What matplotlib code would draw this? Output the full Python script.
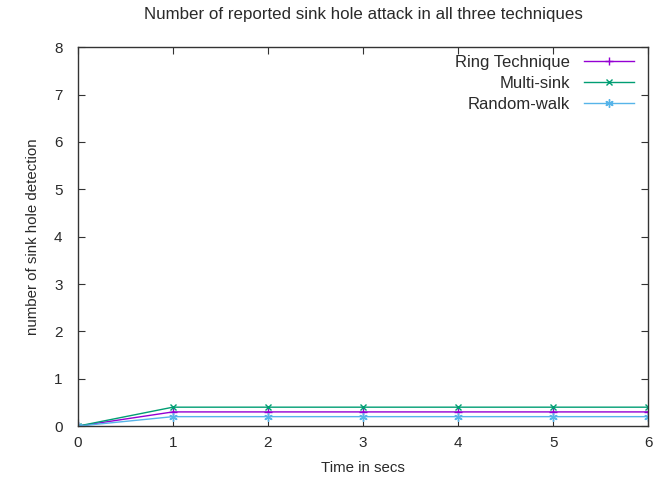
import matplotlib
matplotlib.use('Agg')
import matplotlib.pyplot as plt

plt.rcParams['font.family'] = ['Liberation Sans', 'DejaVu Sans']
plt.rcParams['font.size'] = 10

# data
time = [0, 1, 2, 3, 4, 5, 6]
ring = [0, 0.3, 0.3, 0.3, 0.3, 0.3, 0.3]
multi = [0, 0.4, 0.4, 0.4, 0.4, 0.4, 0.4]
random_walk = [0, 0.2, 0.2, 0.2, 0.2, 0.2, 0.2]

fig = plt.figure(figsize=(6.71, 4.87), dpi=100)
ax = fig.add_axes([0.116, 0.125, 0.85, 0.778])

ax.plot(time, ring, color='#9400D3', marker='+', ms=6, lw=1, label='Ring Technique')
ax.plot(time, multi, color='#009E73', marker='x', ms=5, lw=1, label='Multi-sink')
ax.plot(time, random_walk, color='#56B4E9', marker=(6, 2, 0), ms=6, lw=1, label='Random-walk')

ax.set_xlim(0, 6)
ax.set_ylim(0, 8)
ax.set_xticks(range(0, 7))
ax.set_yticks(range(0, 9))
ax.tick_params(direction='in', top=True, right=True, length=5, colors='#333333',
               labelcolor='#2a2a2a', labelsize=11)
ax.tick_params(axis='x', pad=7)
ax.tick_params(axis='y', pad=11)
for s in ax.spines.values():
    s.set_color('#333333')
    s.set_linewidth(1)

ax.set_xlabel('Time in secs', labelpad=8, fontsize=10.8, color='#2a2a2a')
ax.set_ylabel('number of sink hole detection', labelpad=10, fontsize=10.8, color='#2a2a2a')
ax.set_title('Number of reported sink hole attack in all three techniques', pad=20,
             fontsize=12.2, color='#2a2a2a')

ax.legend(loc='upper right', bbox_to_anchor=(0.986, 0.997), frameon=False,
          markerfirst=False, handlelength=3.0, labelspacing=0.36, borderaxespad=0,
          handletextpad=0.8, fontsize=12, labelcolor='#2a2a2a')

fig.savefig('out.png', dpi=100)
